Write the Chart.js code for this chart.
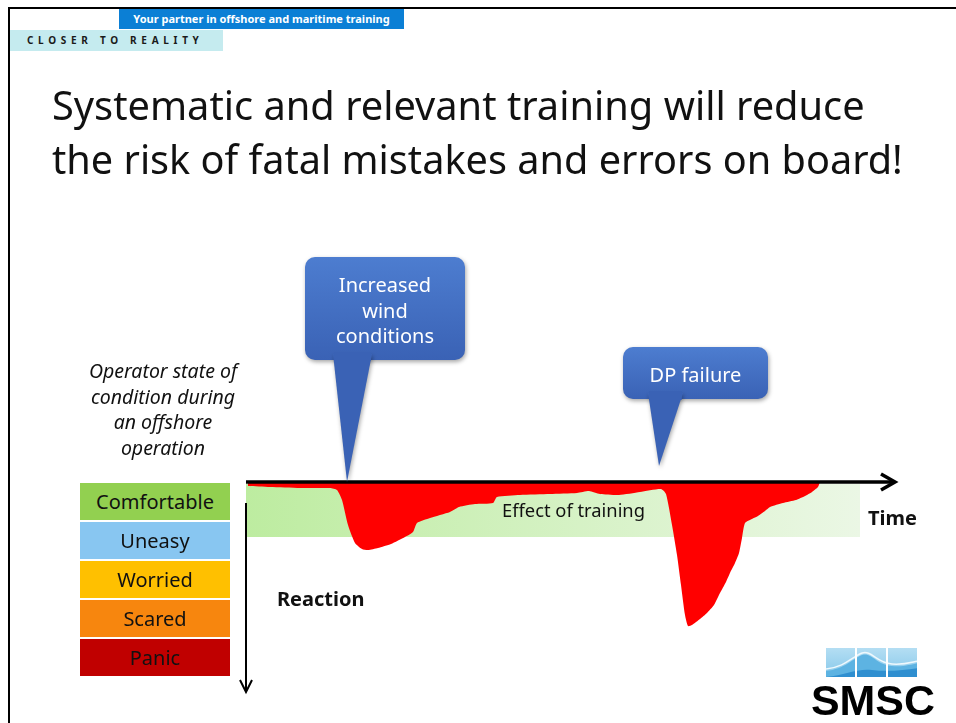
<!DOCTYPE html>
<html>
<head>
<meta charset="utf-8">
<script src="https://cdn.jsdelivr.net/npm/chart.js@4.4.1/dist/chart.umd.min.js"></script>
<style>
html, body { margin: 0; padding: 0; background: #fff; }
body { width: 956px; height: 723px; position: relative; overflow: hidden; font-family: "Noto Sans", sans-serif; color: #111; }
#frame { position: absolute; left: 8px; top: 7px; width: 960px; height: 730px; border-left: 2px solid #000; border-top: 2px solid #000; }
#slide { position: absolute; left: 0; top: 0; }
.t { position: absolute; white-space: nowrap; z-index: 2; }
#partner { left: 119px; top: 9px; width: 285px; height: 20px; background: #0b7fd5; color: #fff; font-weight: bold; font-size: 11px; line-height: 20px; text-align: center; z-index: 1; }
#closer { left: 10px; top: 30px; width: 196px; height: 21px; background: #c5ebef; color: #1a1a1a; font-weight: bold; font-size: 10px; letter-spacing: 4.7px; line-height: 21px; padding-left: 17px; z-index: 1; }
.title { left: 52px; font-size: 40px; line-height: 54px; color: #111; }
#operator { left: 63px; top: 358px; width: 200px; text-align: center; font-style: italic; font-size: 19.5px; line-height: 25.7px; }
.state { left: 80px; width: 150px; height: 37px; line-height: 37px; text-align: center; font-size: 20px; color: #111; }
.call { color: #fff; text-align: center; font-size: 20px; line-height: 25.5px; }
.bold { font-weight: bold; font-size: 20px; }
#smsc { left: 811px; top: 676px; font-family: "Liberation Sans", Arial, sans-serif; font-weight: bold; font-size: 44px; line-height: 48px; color: #000; }
</style>
</head>
<body>
<div id="frame"></div>
<canvas id="slide" width="956" height="723"></canvas>

<div class="t" id="partner">Your partner in offshore and maritime training</div>
<div class="t" id="closer">CLOSER TO REALITY</div>
<div class="t title" id="title1" style="top:78px">Systematic and relevant training will reduce</div>
<div class="t title" id="title2" style="top:132px">the risk of fatal mistakes and errors on board!</div>
<div class="t" id="operator">Operator state of<br>condition during<br>an offshore<br>operation</div>
<div class="t bold" style="left:868px; top:504px">Time</div>
<div class="t bold" style="left:277px; top:585px">Reaction</div>
<div class="t" id="smsc">SMSC</div>

<script>
// reaction curve (time from the start of the axis, reaction depth below the axis)
const reactionTime = [2, 24, 54, 84, 91, 96, 102, 109, 116, 122, 132, 145, 159, 167, 171, 184, 204, 213, 229, 247,
  251, 274, 304, 331, 343, 354, 373, 394, 415, 420, 426, 431, 435, 439, 442, 446, 454, 461, 468, 474,
  480, 484, 489, 493, 496, 499, 506, 512, 519, 524, 537, 550, 559, 566, 572, 574];
const reactionLevel = [4, 5, 6, 6, 8, 18, 43, 61, 67, 68, 66, 62, 55, 50, 41, 36, 30, 25, 22, 21,
  15, 13, 12, 11, 9, 12, 13, 10, 7, 12, 43, 73, 103, 133, 144, 143, 137, 131, 123, 111,
  100, 91, 81, 71, 56, 41, 37, 34, 29, 25, 21, 18, 14, 10, 5, 0];

const stateLabels = ['Comfortable', 'Uneasy', 'Worried', 'Scared', 'Panic'];
const stateColors = ['#92d050', '#88c6f1', '#ffc000', '#f7860e', '#c00000'];

const eventLabels = [['Increased', 'wind', 'conditions'], ['DP failure']];
const eventTime = [101, 413];
const eventTipLevel = [0, -16];

const trainingLabel = 'Effect of training';
const trainingEnd = 614;
const trainingDepth = 55;

// callout boxes (layout only)
const calloutBoxes = [
  { x: 305, y: 257, w: 160, h: 103, b0: 333, b1: 372 },
  { x: 623, y: 347, w: 145, h: 52, b0: 648, b1: 683 }
];

const addText = (cls, txt, css) => {
  const d = document.createElement('div');
  d.className = 't ' + cls;
  d.innerHTML = txt;
  d.style.cssText = css;
  document.body.appendChild(d);
  return d;
};

const fitWidth = (el, w) => {
  const r = el.getBoundingClientRect().width;
  const fs = parseFloat(getComputedStyle(el).fontSize);
  el.style.fontSize = (fs * w / r) + 'px';
};

stateLabels.forEach((s, i) => {
  addText('state', s, `top:${483 + i * 39}px; background:${stateColors[i]};`);
});

calloutBoxes.forEach((b, i) => {
  const lines = eventLabels[i];
  const h = lines.length * 25.5;
  addText('call', lines.join('<br>'), `left:${b.x}px; width:${b.w}px; top:${b.y + (b.h - h) / 2 + 2}px;`);
});

const trainingText = addText('', trainingLabel, 'left:502px; top:498px; font-size:17px; line-height:24px; color:#111;');

const slidePlugin = {
  id: 'slide',
  beforeDatasetsDraw(chart) {
    const { ctx, scales: { x, y } } = chart;
    const x0 = x.getPixelForValue(0), x1 = x.getPixelForValue(trainingEnd);
    const y0 = y.getPixelForValue(2), y1 = y.getPixelForValue(trainingDepth);
    const g = ctx.createLinearGradient(x0, 0, x1, 0);
    g.addColorStop(0, '#bdeca0');
    g.addColorStop(1, '#ebf7e5');
    ctx.save();
    ctx.fillStyle = g;
    ctx.fillRect(x0, y0, x1 - x0, y1 - y0);
    ctx.restore();
  },
  afterDatasetsDraw(chart) {
    const { ctx, scales: { x, y } } = chart;
    const ox = x.getPixelForValue(0), oy = y.getPixelForValue(0);
    const ex = x.getPixelForValue(x.max), ey = y.getPixelForValue(y.max);
    ctx.save();
    ctx.strokeStyle = '#000';
    ctx.lineCap = 'butt';
    // time axis
    ctx.lineWidth = 3.5;
    ctx.beginPath();
    ctx.moveTo(ox, oy);
    ctx.lineTo(ex - 2, oy);
    ctx.stroke();
    ctx.lineJoin = 'miter';
    ctx.beginPath();
    ctx.moveTo(ex - 15, oy - 8);
    ctx.lineTo(ex - 1, oy);
    ctx.lineTo(ex - 15, oy + 8);
    ctx.stroke();
    // reaction axis
    ctx.lineWidth = 2;
    ctx.beginPath();
    ctx.moveTo(ox, oy + 21);
    ctx.lineTo(ox, ey);
    ctx.stroke();
    ctx.beginPath();
    ctx.moveTo(ox - 6, ey - 12);
    ctx.lineTo(ox, ey);
    ctx.lineTo(ox + 6, ey - 12);
    ctx.stroke();
    ctx.restore();

    // callouts
    calloutBoxes.forEach((b, i) => {
      const tx = x.getPixelForValue(eventTime[i]);
      const ty = y.getPixelForValue(eventTipLevel[i]);
      ctx.save();
      ctx.shadowColor = 'rgba(0,0,0,0.35)';
      ctx.shadowBlur = 4;
      ctx.shadowOffsetX = 1;
      ctx.shadowOffsetY = 2;
      const g = ctx.createLinearGradient(0, b.y, 0, b.y + b.h);
      g.addColorStop(0, '#4d7dd0');
      g.addColorStop(1, '#3a62b5');
      ctx.fillStyle = g;
      ctx.beginPath();
      ctx.roundRect(b.x, b.y, b.w, b.h, 10);
      ctx.fill();
      ctx.beginPath();
      ctx.moveTo(b.b0, b.y + b.h - 6);
      ctx.lineTo(tx, ty);
      ctx.lineTo(b.b1, b.y + b.h - 6);
      ctx.closePath();
      ctx.fill();
      // cover the shadow seam where pointer meets box
      ctx.shadowColor = 'transparent';
      ctx.fillStyle = '#3a62b5';
      ctx.beginPath();
      ctx.moveTo(b.b0 + 1, b.y + b.h - 8);
      ctx.lineTo(b.b1 - 1, b.y + b.h - 8);
      ctx.lineTo(b.b1 - 1.3, b.y + b.h + 1);
      ctx.lineTo(b.b0 + 1.3, b.y + b.h + 1);
      ctx.closePath();
      ctx.fill();
      ctx.restore();
    });

    // SMSC wave mark
    ctx.save();
    ctx.beginPath();
    for (let i = 0; i < 3; i++) ctx.rect(826 + i * 31, 648, 29, 29);
    ctx.clip();
    const wg = ctx.createLinearGradient(0, 648, 0, 677);
    wg.addColorStop(0, '#b4def3');
    wg.addColorStop(1, '#86c8ea');
    ctx.fillStyle = wg;
    ctx.fillRect(826, 648, 92, 29);
    ctx.fillStyle = '#5db3e2';
    ctx.beginPath();
    ctx.moveTo(826, 671);
    ctx.bezierCurveTo(845, 669, 852, 659, 862, 655);
    ctx.bezierCurveTo(872, 652, 876, 665, 892, 666);
    ctx.bezierCurveTo(905, 667, 912, 664, 918, 663);
    ctx.lineTo(918, 677);
    ctx.lineTo(826, 677);
    ctx.closePath();
    ctx.fill();
    ctx.strokeStyle = '#eef8fd';
    ctx.lineWidth = 1.5;
    ctx.beginPath();
    ctx.moveTo(826, 669);
    ctx.bezierCurveTo(845, 667, 852, 657, 862, 653);
    ctx.bezierCurveTo(872, 650, 876, 663, 892, 664);
    ctx.bezierCurveTo(905, 665, 912, 662, 918, 661);
    ctx.stroke();
    ctx.fillStyle = '#2f8fd0';
    ctx.beginPath();
    ctx.moveTo(826, 677);
    ctx.bezierCurveTo(845, 675, 858, 668, 872, 670);
    ctx.bezierCurveTo(888, 672, 905, 670, 918, 668);
    ctx.lineTo(918, 677);
    ctx.closePath();
    ctx.fill();
    ctx.restore();
  }
};

const setupChart = () => {
  const points = reactionTime.map((t, i) => ({ x: t, y: reactionLevel[i] }));
  new Chart(document.getElementById('slide'), {
    type: 'line',
    data: {
      datasets: [{
        data: points,
        borderWidth: 0,
        borderColor: '#ff0000',
        backgroundColor: '#ff0000',
        pointRadius: 0,
        tension: 0.2,
        fill: 'origin'
      }]
    },
    options: {
      responsive: false,
      animation: false,
      devicePixelRatio: 1,
      layout: { padding: { left: 246, right: 60, top: 482, bottom: 31 } },
      plugins: { legend: { display: false }, tooltip: { enabled: false } },
      scales: {
        x: { type: 'linear', min: 0, max: 650, display: false },
        y: { type: 'linear', min: 0, max: 210, reverse: true, display: false }
      }
    },
    plugins: [slidePlugin]
  });
};

const main = () => {
  fitWidth(document.getElementById('title1'), 813);
  fitWidth(document.getElementById('title2'), 851);
  fitWidth(trainingText, 143);
  fitWidth(document.getElementById('smsc'), 124);
  setupChart();
};

main();
</script>
</body>
</html>
